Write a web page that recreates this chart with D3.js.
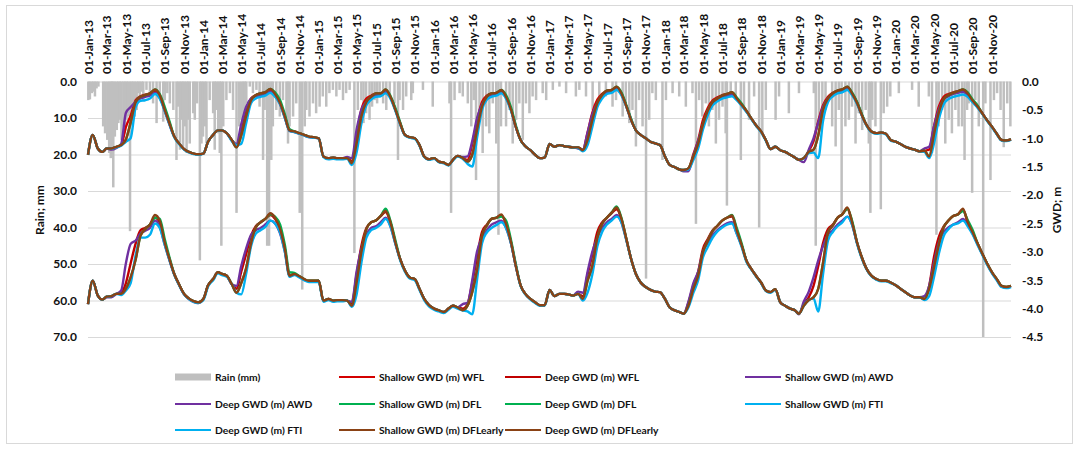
<!DOCTYPE html>
<html>
<head>
<meta charset="utf-8">
<script src="https://cdn.jsdelivr.net/npm/d3@7"></script>
<style>
  body { margin: 0; background: #fff; }
  text { font-family: Lato, "Liberation Sans", sans-serif; font-weight: bold; fill: #111; }
</style>
</head>
<body>
<div id="chart"></div>
<script>
var w = 1079;
var h = 450;

// Rain: day of record (days after 01-Jan-13) and depth in mm
var rainDay = [1,6,12,17,22,27,33,48,54,61,67,72,76,80,85,91,96,101,106,112,117,122,127,133,138,143,148,154,159,164,170,175,185,196,206,217,227,238,243,251,259,270,280,285,291,296,301,306,312,317,322,333,338,345,354,359,364,370,375,385,396,401,406,412,417,422,428,438,449,459,470,478,485,491,496,501,512,522,533,543,554,559,567,573,580,585,596,607,617,628,633,638,649,659,670,678,686,691,701,712,722,733,743,754,764,775,786,796,807,817,828,843,854,865,872,880,891,899,907,915,
  923,934,944,955,970,981,986,997,1007,1023,1028,1060,1091,1144,1149,1160,1176,1186,1202,1213,1221,1228,1239,1249,1260,1270,1281,1292,1299,1307,1323,1334,1344,1355,1365,1376,1386,1397,1407,1418,1439,1450,1471,1492,1513,1544,1555,1576,1597,1618,1639,1660,1671,1692,1702,1713,1723,1734,1744,1755,1766,1776,1786,1797,1818,1829,1850,1871,1892,1913,1924,1934,1944,1955,1965,1976,1987,1997,2008,2018,
  2022,2034,2050,2066,2076,2092,2108,2124,2134,2145,2176,2187,2218,2250,2297,2303,2313,2324,2334,2355,2366,2376,2385,2397,2408,2418,2429,2439,2450,2461,2471,2476,2482,2492,2509,2518,2529,2539,2566,2608,2629,2661,2671,2685,2692,2703,2713,2724,2734,2745,2755,
  2766,2774,2782,2787,2798,2808,2819,2833,2840,2856,2867,2877,2888,2898,2909,2919];
var rainMm = [5.1,4.9,3.2,2.8,4.1,1.9,1.4,12.3,14.2,16.0,19.6,21.0,17.0,29,15.1,13.3,11.4,10.5,16.0,12.3,14.2,10.5,9.6,41,12.3,7.8,9.6,7.8,3.2,4.1,2.8,5.1,2.3,3.2,6.0,11.4,4.1,11.0,5.1,3.2,6.0,7.8,21.5,6.9,18.7,10.5,17.8,12.3,19.6,10.5,17.0,8.7,10.5,6.0,49,17.0,15.1,12.3,17.0,5.1,8.7,18.7,7.8,14.2,19.6,45,12.3,5.1,3.2,7.8,36,12.3,10.5,14.2,7.8,6.0,1.4,3.2,2.3,6.9,21.5,7.8,45,45,21.5,12.3,7.8,9.6,5.1,10.5,17.0,12.3,9.6,6.0,36,57,12.3,7.8,9.6,6.0,8.7,6.9,4.1,6.9,3.2,2.3,4.1,2.3,5.1,3.2,2.3,47,7.8,5.1,11.4,8.7,10.5,6.9,5.1,6.0,
  4.0,6.0,7.8,4.1,6.0,21.5,5.1,7.8,4.1,5.1,3.2,2.3,6.9,6.0,36,5.1,3.2,4.1,6.0,12.3,5.1,27,9.6,19.6,12.3,14.2,6.0,17.0,42,12.3,12.3,7.8,17.0,10.5,6.0,16.0,6.0,8.7,4.1,5.1,3.2,5.1,2.3,1.4,3.2,4.1,2.3,4.1,7.8,6.0,4.1,6.9,5.1,9.6,6.0,11.4,7.8,17.8,5.1,12.3,54,10.5,3.2,5.1,21.5,5.1,3.2,4.1,6.9,3.2,39,5.1,9.6,6.0,12.3,7.8,17.0,10.5,6.9,14.2,
  34,3.2,4.1,21.5,6.9,10.5,4.1,40,14.2,7.8,10.5,4.1,8.7,3.2,3.2,45,12.3,10.5,7.8,12.3,17.8,7.8,36,12.3,10.5,6.9,17.0,8.7,13.3,7.8,17.0,36,10.5,12.3,35,8.7,6.9,4.1,3.2,2.3,6.9,4.1,19.6,42,12.3,7.8,17.0,10.5,14.2,7.8,12.3,
  12.3,21.5,7.8,6.0,30.5,5.1,12.3,70,6.0,27,5.1,3.2,7.8,18,6.0,12.3];

// GWD (m), sampled on the 1st and 16th of each month, 2013 to 2020, plus 31-Dec-20
var shallowWFL = [
  -1.29,-0.94,-1.18,-1.24,-1.18,-1.18,-1.15,-1.12,-0.80,-0.60,-0.33,-0.26,-0.23,-0.21,-0.17,-0.25,-0.50,-0.74,-0.97,-1.09,-1.19,-1.24,-1.27,-1.28,
  -1.27,-1.06,-0.94,-0.86,-0.86,-0.91,-1.03,-1.13,-0.85,-0.52,-0.30,-0.24,-0.21,-0.19,-0.15,-0.23,-0.38,-0.62,-0.86,-0.88,-0.91,-0.94,-0.97,-0.98,
  -1.00,-1.32,-1.35,-1.34,-1.35,-1.35,-1.35,-1.40,-0.95,-0.50,-0.30,-0.25,-0.21,-0.21,-0.16,-0.27,-0.50,-0.74,-0.94,-0.98,-1.00,-1.12,-1.32,-1.37,
  -1.35,-1.41,-1.43,-1.47,-1.38,-1.31,-1.35,-1.38,-1.10,-0.70,-0.36,-0.25,-0.21,-0.20,-0.17,-0.27,-0.50,-0.80,-1.03,-1.14,-1.21,-1.29,-1.35,-1.34,
  -1.10,-1.15,-1.12,-1.14,-1.15,-1.16,-1.16,-1.20,-0.90,-0.55,-0.32,-0.22,-0.16,-0.15,-0.11,-0.21,-0.44,-0.68,-0.86,-0.94,-1.00,-1.06,-1.09,-1.12,
  -1.32,-1.47,-1.51,-1.55,-1.56,-1.53,-1.28,-1.03,-0.68,-0.47,-0.33,-0.28,-0.24,-0.22,-0.20,-0.30,-0.41,-0.52,-0.65,-0.77,-0.88,-1.03,-1.19,-1.15,
  -1.21,-1.24,-1.29,-1.34,-1.38,-1.35,-1.22,-1.05,-0.70,-0.42,-0.27,-0.20,-0.16,-0.14,-0.11,-0.21,-0.38,-0.59,-0.77,-0.88,-0.91,-0.90,-0.92,-1.03,
  -1.06,-1.10,-1.15,-1.18,-1.20,-1.23,-1.22,-1.20,-0.80,-0.45,-0.27,-0.22,-0.19,-0.17,-0.15,-0.21,-0.34,-0.44,-0.56,-0.68,-0.80,-0.92,-1.03,-1.04,
  -1.02];
var deepWFL = [
  -3.92,-3.51,-3.77,-3.84,-3.79,-3.78,-3.74,-3.72,-3.55,-3.20,-2.85,-2.62,-2.58,-2.52,-2.40,-2.48,-2.84,-3.13,-3.39,-3.57,-3.74,-3.82,-3.87,-3.89,
  -3.83,-3.59,-3.48,-3.36,-3.39,-3.42,-3.57,-3.65,-3.35,-3.05,-2.72,-2.55,-2.48,-2.42,-2.35,-2.42,-2.60,-2.95,-3.42,-3.39,-3.43,-3.48,-3.51,-3.51,
  -3.51,-3.86,-3.83,-3.86,-3.85,-3.85,-3.86,-3.90,-3.40,-2.90,-2.58,-2.48,-2.45,-2.37,-2.30,-2.48,-2.84,-3.13,-3.33,-3.45,-3.48,-3.65,-3.83,-3.94,
  -4.00,-4.03,-4.06,-4.00,-3.95,-3.98,-4.00,-3.92,-3.55,-3.10,-2.65,-2.52,-2.42,-2.40,-2.36,-2.51,-2.84,-3.25,-3.59,-3.74,-3.83,-3.89,-3.94,-3.94,
  -3.67,-3.78,-3.74,-3.74,-3.75,-3.77,-3.74,-3.78,-3.40,-3.05,-2.65,-2.48,-2.40,-2.32,-2.25,-2.42,-2.78,-3.13,-3.39,-3.54,-3.62,-3.67,-3.70,-3.71,
  -3.83,-3.98,-4.03,-4.06,-4.09,-3.90,-3.58,-3.35,-2.95,-2.78,-2.62,-2.54,-2.45,-2.40,-2.38,-2.62,-2.89,-3.16,-3.30,-3.42,-3.54,-3.68,-3.71,-3.66,
  -3.89,-3.95,-4.00,-4.03,-4.09,-3.92,-3.80,-3.60,-3.25,-2.85,-2.60,-2.52,-2.40,-2.34,-2.24,-2.48,-2.84,-3.10,-3.30,-3.42,-3.48,-3.51,-3.51,-3.54,
  -3.59,-3.65,-3.71,-3.77,-3.80,-3.80,-3.83,-3.60,-3.10,-2.75,-2.55,-2.45,-2.37,-2.34,-2.26,-2.48,-2.66,-2.85,-3.03,-3.20,-3.36,-3.48,-3.60,-3.62,
  -3.60];
var shallowAWD = [
  -1.29,-0.94,-1.18,-1.24,-1.18,-1.20,-1.17,-1.10,-0.55,-0.45,-0.36,-0.30,-0.27,-0.25,-0.20,-0.28,-0.52,-0.76,-0.97,-1.09,-1.19,-1.24,-1.27,-1.28,
  -1.27,-1.06,-0.94,-0.86,-0.86,-0.91,-1.03,-1.10,-0.75,-0.45,-0.30,-0.26,-0.24,-0.22,-0.18,-0.25,-0.40,-0.64,-0.87,-0.89,-0.92,-0.95,-0.98,-0.99,
  -1.00,-1.32,-1.35,-1.34,-1.35,-1.35,-1.33,-1.35,-0.85,-0.50,-0.36,-0.29,-0.24,-0.23,-0.18,-0.28,-0.50,-0.74,-0.94,-0.98,-1.00,-1.12,-1.32,-1.37,
  -1.35,-1.41,-1.43,-1.47,-1.38,-1.31,-1.33,-1.32,-1.05,-0.65,-0.40,-0.30,-0.25,-0.23,-0.20,-0.29,-0.50,-0.80,-1.03,-1.14,-1.21,-1.29,-1.35,-1.34,
  -1.10,-1.15,-1.12,-1.14,-1.15,-1.16,-1.18,-1.20,-0.90,-0.58,-0.38,-0.27,-0.20,-0.18,-0.13,-0.23,-0.44,-0.68,-0.86,-0.94,-1.00,-1.06,-1.09,-1.12,
  -1.32,-1.47,-1.51,-1.55,-1.58,-1.58,-1.30,-1.05,-0.76,-0.53,-0.38,-0.32,-0.28,-0.25,-0.23,-0.31,-0.42,-0.53,-0.65,-0.77,-0.88,-1.03,-1.19,-1.15,
  -1.21,-1.24,-1.29,-1.34,-1.38,-1.42,-1.20,-1.00,-0.72,-0.45,-0.30,-0.23,-0.19,-0.17,-0.13,-0.22,-0.38,-0.59,-0.77,-0.88,-0.91,-0.90,-0.92,-1.03,
  -1.06,-1.10,-1.15,-1.18,-1.20,-1.23,-1.18,-1.15,-0.80,-0.50,-0.32,-0.26,-0.22,-0.20,-0.18,-0.24,-0.35,-0.45,-0.56,-0.68,-0.80,-0.92,-1.03,-1.04,
  -1.02];
var deepAWD = [
  -3.92,-3.51,-3.77,-3.84,-3.80,-3.80,-3.74,-3.68,-3.20,-2.86,-2.80,-2.68,-2.63,-2.58,-2.45,-2.55,-2.88,-3.15,-3.40,-3.58,-3.75,-3.83,-3.88,-3.90,
  -3.83,-3.59,-3.48,-3.36,-3.39,-3.42,-3.57,-3.60,-3.25,-2.95,-2.70,-2.62,-2.58,-2.52,-2.45,-2.50,-2.68,-3.00,-3.43,-3.40,-3.44,-3.49,-3.52,-3.52,
  -3.51,-3.86,-3.83,-3.86,-3.85,-3.85,-3.86,-3.88,-3.35,-2.95,-2.70,-2.58,-2.55,-2.48,-2.40,-2.55,-2.86,-3.13,-3.33,-3.45,-3.48,-3.65,-3.83,-3.94,
  -4.00,-4.03,-4.06,-4.00,-3.95,-3.98,-3.92,-3.90,-3.50,-3.00,-2.75,-2.62,-2.52,-2.48,-2.45,-2.58,-2.86,-3.25,-3.59,-3.74,-3.83,-3.89,-3.94,-3.94,
  -3.67,-3.78,-3.74,-3.74,-3.75,-3.77,-3.70,-3.72,-3.35,-3.00,-2.75,-2.58,-2.48,-2.42,-2.35,-2.48,-2.80,-3.13,-3.39,-3.54,-3.62,-3.67,-3.70,-3.71,
  -3.83,-3.98,-4.03,-4.06,-4.09,-3.88,-3.55,-3.35,-3.00,-2.85,-2.70,-2.62,-2.55,-2.50,-2.48,-2.68,-2.90,-3.16,-3.30,-3.42,-3.54,-3.68,-3.71,-3.66,
  -3.89,-3.95,-4.00,-4.03,-4.10,-3.88,-3.70,-3.45,-3.15,-2.90,-2.70,-2.62,-2.52,-2.45,-2.38,-2.52,-2.85,-3.10,-3.30,-3.42,-3.48,-3.51,-3.51,-3.54,
  -3.59,-3.65,-3.71,-3.77,-3.80,-3.80,-3.78,-3.60,-3.20,-2.85,-2.65,-2.57,-2.52,-2.48,-2.42,-2.52,-2.68,-2.86,-3.04,-3.21,-3.37,-3.49,-3.61,-3.63,
  -3.61];
var shallowDFL = [
  -1.29,-0.94,-1.18,-1.24,-1.18,-1.18,-1.15,-1.12,-1.02,-0.72,-0.36,-0.27,-0.24,-0.21,-0.14,-0.22,-0.45,-0.70,-0.97,-1.09,-1.19,-1.24,-1.27,-1.28,
  -1.27,-1.06,-0.94,-0.86,-0.86,-0.91,-1.03,-1.16,-0.95,-0.62,-0.33,-0.24,-0.21,-0.19,-0.13,-0.19,-0.33,-0.58,-0.84,-0.88,-0.91,-0.94,-0.97,-0.98,
  -1.00,-1.32,-1.35,-1.34,-1.35,-1.35,-1.35,-1.44,-1.09,-0.62,-0.36,-0.27,-0.21,-0.21,-0.14,-0.25,-0.47,-0.72,-0.94,-0.98,-1.00,-1.12,-1.32,-1.37,
  -1.35,-1.41,-1.43,-1.47,-1.38,-1.31,-1.35,-1.41,-1.29,-0.86,-0.44,-0.27,-0.21,-0.20,-0.15,-0.24,-0.46,-0.77,-1.03,-1.14,-1.21,-1.29,-1.35,-1.34,
  -1.10,-1.15,-1.12,-1.14,-1.15,-1.16,-1.16,-1.21,-1.03,-0.68,-0.38,-0.24,-0.16,-0.15,-0.09,-0.19,-0.42,-0.66,-0.86,-0.94,-1.00,-1.06,-1.09,-1.12,
  -1.32,-1.47,-1.51,-1.55,-1.56,-1.53,-1.32,-1.10,-0.76,-0.52,-0.36,-0.30,-0.25,-0.22,-0.19,-0.28,-0.39,-0.52,-0.65,-0.77,-0.88,-1.03,-1.19,-1.15,
  -1.21,-1.24,-1.29,-1.34,-1.38,-1.35,-1.24,-1.20,-0.95,-0.50,-0.30,-0.21,-0.16,-0.14,-0.09,-0.19,-0.36,-0.57,-0.77,-0.88,-0.91,-0.90,-0.92,-1.03,
  -1.06,-1.10,-1.15,-1.18,-1.20,-1.23,-1.22,-1.32,-0.94,-0.56,-0.31,-0.24,-0.20,-0.17,-0.14,-0.19,-0.32,-0.42,-0.56,-0.68,-0.80,-0.92,-1.03,-1.04,
  -1.02];
var deepDFL = [
  -3.92,-3.51,-3.77,-3.84,-3.79,-3.78,-3.74,-3.74,-3.65,-3.45,-3.13,-2.72,-2.60,-2.52,-2.40,-2.42,-2.78,-3.10,-3.39,-3.57,-3.74,-3.82,-3.87,-3.89,
  -3.83,-3.59,-3.48,-3.36,-3.39,-3.42,-3.57,-3.72,-3.55,-3.30,-2.85,-2.57,-2.48,-2.42,-2.34,-2.38,-2.52,-2.88,-3.36,-3.37,-3.43,-3.48,-3.51,-3.51,
  -3.51,-3.86,-3.83,-3.86,-3.85,-3.85,-3.86,-3.95,-3.54,-3.01,-2.60,-2.48,-2.45,-2.37,-2.24,-2.45,-2.80,-3.13,-3.33,-3.45,-3.48,-3.65,-3.83,-3.94,
  -4.00,-4.03,-4.06,-4.00,-3.95,-3.98,-4.03,-3.95,-3.71,-3.33,-2.72,-2.54,-2.42,-2.40,-2.38,-2.45,-2.80,-3.22,-3.59,-3.74,-3.83,-3.89,-3.94,-3.94,
  -3.67,-3.78,-3.74,-3.74,-3.75,-3.77,-3.74,-3.83,-3.51,-3.25,-2.75,-2.51,-2.40,-2.31,-2.20,-2.40,-2.78,-3.13,-3.39,-3.54,-3.62,-3.67,-3.70,-3.71,
  -3.83,-3.98,-4.03,-4.06,-4.09,-3.95,-3.65,-3.42,-3.01,-2.81,-2.63,-2.54,-2.45,-2.40,-2.35,-2.58,-2.86,-3.16,-3.30,-3.42,-3.54,-3.68,-3.71,-3.66,
  -3.89,-3.95,-4.00,-4.03,-4.09,-3.95,-3.85,-3.80,-3.65,-3.20,-2.66,-2.54,-2.40,-2.34,-2.24,-2.45,-2.84,-3.10,-3.30,-3.42,-3.48,-3.51,-3.51,-3.54,
  -3.59,-3.65,-3.71,-3.77,-3.80,-3.80,-3.83,-3.65,-3.28,-2.89,-2.57,-2.45,-2.37,-2.34,-2.28,-2.44,-2.62,-2.85,-3.03,-3.20,-3.36,-3.48,-3.60,-3.62,
  -3.60];
var shallowFTI = [
  -1.29,-0.94,-1.18,-1.24,-1.18,-1.18,-1.16,-1.13,-1.06,-1.00,-0.45,-0.34,-0.33,-0.30,-0.22,-0.30,-0.52,-0.76,-0.98,-1.10,-1.20,-1.25,-1.28,-1.29,
  -1.27,-1.06,-0.94,-0.86,-0.86,-0.91,-1.05,-1.12,-1.10,-0.75,-0.38,-0.30,-0.27,-0.25,-0.20,-0.27,-0.40,-0.64,-0.87,-0.89,-0.92,-0.95,-0.98,-0.99,
  -1.00,-1.33,-1.37,-1.36,-1.37,-1.37,-1.36,-1.47,-1.25,-0.75,-0.42,-0.32,-0.27,-0.26,-0.21,-0.30,-0.52,-0.76,-0.95,-0.99,-1.01,-1.13,-1.33,-1.38,
  -1.36,-1.42,-1.44,-1.48,-1.39,-1.32,-1.36,-1.45,-1.50,-1.00,-0.50,-0.32,-0.27,-0.25,-0.21,-0.30,-0.52,-0.80,-1.03,-1.14,-1.21,-1.29,-1.35,-1.34,
  -1.10,-1.15,-1.12,-1.14,-1.15,-1.16,-1.17,-1.23,-1.12,-0.80,-0.45,-0.30,-0.22,-0.20,-0.15,-0.24,-0.45,-0.68,-0.86,-0.94,-1.00,-1.06,-1.09,-1.12,
  -1.32,-1.47,-1.51,-1.55,-1.56,-1.55,-1.38,-1.18,-0.85,-0.60,-0.42,-0.35,-0.30,-0.28,-0.26,-0.33,-0.43,-0.54,-0.66,-0.78,-0.89,-1.04,-1.19,-1.15,
  -1.21,-1.24,-1.29,-1.34,-1.38,-1.35,-1.26,-1.25,-1.35,-0.70,-0.36,-0.26,-0.21,-0.19,-0.15,-0.24,-0.40,-0.60,-0.78,-0.89,-0.92,-0.91,-0.93,-1.04,
  -1.06,-1.10,-1.15,-1.18,-1.20,-1.23,-1.24,-1.35,-1.10,-0.68,-0.40,-0.31,-0.27,-0.25,-0.23,-0.27,-0.37,-0.46,-0.57,-0.69,-0.81,-0.93,-1.04,-1.05,
  -1.03];
var deepFTI = [
  -3.92,-3.51,-3.77,-3.84,-3.79,-3.78,-3.74,-3.76,-3.68,-3.55,-3.05,-2.75,-2.75,-2.70,-2.50,-2.58,-2.88,-3.15,-3.40,-3.58,-3.75,-3.83,-3.88,-3.90,
  -3.85,-3.61,-3.50,-3.38,-3.41,-3.44,-3.57,-3.72,-3.75,-3.40,-2.90,-2.68,-2.62,-2.56,-2.45,-2.50,-2.66,-3.00,-3.44,-3.41,-3.45,-3.50,-3.53,-3.53,
  -3.53,-3.88,-3.85,-3.88,-3.87,-3.87,-3.86,-3.97,-3.75,-3.20,-2.75,-2.62,-2.58,-2.52,-2.42,-2.55,-2.86,-3.15,-3.35,-3.47,-3.50,-3.67,-3.85,-3.96,
  -4.02,-4.05,-4.08,-4.02,-3.97,-4.00,-4.03,-4.05,-4.10,-3.50,-2.85,-2.66,-2.58,-2.53,-2.48,-2.58,-2.86,-3.25,-3.60,-3.75,-3.84,-3.90,-3.95,-3.95,
  -3.67,-3.78,-3.74,-3.74,-3.75,-3.77,-3.74,-3.86,-3.72,-3.40,-2.90,-2.65,-2.52,-2.45,-2.38,-2.48,-2.80,-3.13,-3.39,-3.54,-3.62,-3.67,-3.70,-3.71,
  -3.83,-3.98,-4.03,-4.06,-4.09,-3.98,-3.72,-3.50,-3.10,-2.92,-2.75,-2.64,-2.57,-2.52,-2.50,-2.68,-2.92,-3.18,-3.31,-3.43,-3.55,-3.69,-3.72,-3.67,
  -3.89,-3.95,-4.00,-4.03,-4.09,-3.95,-3.85,-3.82,-4.05,-3.40,-2.80,-2.65,-2.55,-2.48,-2.38,-2.52,-2.86,-3.12,-3.31,-3.43,-3.49,-3.52,-3.52,-3.55,
  -3.59,-3.65,-3.71,-3.77,-3.80,-3.80,-3.85,-3.78,-3.45,-3.05,-2.72,-2.60,-2.52,-2.50,-2.45,-2.55,-2.70,-2.88,-3.05,-3.22,-3.38,-3.50,-3.62,-3.64,
  -3.62];
var shallowDFLearly = [
  -1.29,-0.94,-1.18,-1.24,-1.18,-1.18,-1.15,-1.12,-1.02,-0.72,-0.36,-0.27,-0.24,-0.21,-0.14,-0.24,-0.50,-0.74,-0.97,-1.09,-1.19,-1.24,-1.27,-1.28,
  -1.27,-1.06,-0.94,-0.86,-0.86,-0.91,-1.03,-1.16,-0.95,-0.62,-0.33,-0.24,-0.21,-0.19,-0.13,-0.22,-0.38,-0.62,-0.86,-0.88,-0.91,-0.94,-0.97,-0.98,
  -1.00,-1.32,-1.35,-1.34,-1.35,-1.35,-1.35,-1.44,-1.09,-0.62,-0.36,-0.27,-0.21,-0.21,-0.14,-0.27,-0.50,-0.74,-0.94,-0.98,-1.00,-1.12,-1.32,-1.37,
  -1.35,-1.41,-1.43,-1.47,-1.38,-1.31,-1.35,-1.41,-1.29,-0.86,-0.44,-0.27,-0.21,-0.20,-0.15,-0.27,-0.50,-0.80,-1.03,-1.14,-1.21,-1.29,-1.35,-1.34,
  -1.10,-1.15,-1.12,-1.14,-1.15,-1.16,-1.16,-1.21,-1.03,-0.68,-0.38,-0.24,-0.16,-0.15,-0.09,-0.21,-0.44,-0.68,-0.86,-0.94,-1.00,-1.06,-1.09,-1.12,
  -1.32,-1.47,-1.51,-1.55,-1.56,-1.53,-1.32,-1.10,-0.76,-0.52,-0.36,-0.30,-0.25,-0.22,-0.19,-0.30,-0.41,-0.52,-0.65,-0.77,-0.88,-1.03,-1.19,-1.15,
  -1.21,-1.24,-1.29,-1.34,-1.38,-1.35,-1.24,-1.20,-0.95,-0.50,-0.30,-0.21,-0.16,-0.14,-0.09,-0.21,-0.38,-0.59,-0.77,-0.88,-0.91,-0.90,-0.92,-1.03,
  -1.06,-1.10,-1.15,-1.18,-1.20,-1.23,-1.22,-1.32,-0.94,-0.56,-0.31,-0.24,-0.20,-0.17,-0.14,-0.21,-0.34,-0.44,-0.56,-0.68,-0.80,-0.92,-1.03,-1.04,
  -1.02];
var deepDFLearly = [
  -3.92,-3.51,-3.77,-3.84,-3.79,-3.78,-3.74,-3.74,-3.65,-3.45,-3.13,-2.72,-2.60,-2.52,-2.35,-2.45,-2.84,-3.13,-3.39,-3.57,-3.74,-3.82,-3.87,-3.89,
  -3.83,-3.59,-3.48,-3.36,-3.39,-3.42,-3.57,-3.72,-3.55,-3.30,-2.85,-2.57,-2.48,-2.42,-2.32,-2.40,-2.60,-2.95,-3.42,-3.39,-3.43,-3.48,-3.51,-3.51,
  -3.51,-3.86,-3.83,-3.86,-3.85,-3.85,-3.86,-3.95,-3.54,-3.01,-2.60,-2.48,-2.45,-2.37,-2.28,-2.48,-2.84,-3.13,-3.33,-3.45,-3.48,-3.65,-3.83,-3.94,
  -4.00,-4.03,-4.06,-4.00,-3.95,-3.98,-4.03,-3.95,-3.71,-3.33,-2.72,-2.54,-2.42,-2.40,-2.34,-2.51,-2.84,-3.25,-3.59,-3.74,-3.83,-3.89,-3.94,-3.94,
  -3.67,-3.78,-3.74,-3.74,-3.75,-3.77,-3.74,-3.83,-3.51,-3.25,-2.75,-2.51,-2.40,-2.31,-2.22,-2.42,-2.78,-3.13,-3.39,-3.54,-3.62,-3.67,-3.70,-3.71,
  -3.83,-3.98,-4.03,-4.06,-4.09,-3.95,-3.65,-3.42,-3.01,-2.81,-2.63,-2.54,-2.45,-2.40,-2.36,-2.62,-2.89,-3.16,-3.30,-3.42,-3.54,-3.68,-3.71,-3.66,
  -3.89,-3.95,-4.00,-4.03,-4.09,-3.95,-3.85,-3.80,-3.65,-3.20,-2.66,-2.54,-2.40,-2.34,-2.22,-2.48,-2.84,-3.10,-3.30,-3.42,-3.48,-3.51,-3.51,-3.54,
  -3.59,-3.65,-3.71,-3.77,-3.80,-3.80,-3.83,-3.65,-3.28,-2.89,-2.57,-2.45,-2.37,-2.34,-2.24,-2.48,-2.66,-2.85,-3.03,-3.20,-3.36,-3.48,-3.60,-3.62,
  -3.60];

var seriesNames = ["Shallow GWD (m) WFL", "Deep GWD (m) WFL", "Shallow GWD (m) AWD", "Deep GWD (m) AWD",
                   "Shallow GWD (m) DFL", "Deep GWD (m) DFL", "Shallow GWD (m) FTI", "Deep GWD (m) FTI",
                   "Shallow GWD (m) DFLearly", "Deep GWD (m) DFLearly"];
var seriesColors = ["#d40000", "#c00000", "#7030a0", "#7030a0", "#00b050", "#00b050",
                    "#00b0f0", "#00b0f0", "#8a4215", "#8a4215"];
var seriesValues = [shallowWFL, deepWFL, shallowAWD, deepAWD, shallowDFL, deepDFL,
                    shallowFTI, deepFTI, shallowDFLearly, deepDFLearly];

var rainTicks = [0, 10, 20, 30, 40, 50, 60, 70];
var gwdTicks = [0, -0.5, -1, -1.5, -2, -2.5, -3, -3.5, -4, -4.5];

// sampling dates for the GWD series
var startDate = new Date(2013, 0, 1);
var gwdDates = [];
for (var yr = 2013; yr <= 2020; yr++) {
  for (var mo = 0; mo < 12; mo++) {
    gwdDates.push(new Date(yr, mo, 1), new Date(yr, mo, 16));
  }
}
gwdDates.push(new Date(2020, 11, 31));

var plotLeft = 88, plotRight = 1011, plotTop = 81.5, plotBottom = 337;

var xScale = d3.scaleTime()
      .domain([startDate, new Date(2020, 11, 31)])
      .range([plotLeft, plotRight]);
var yRain = d3.scaleLinear().domain([0, 70]).range([plotTop, plotBottom]);
var yGwd = d3.scaleLinear().domain([0, -4.5]).range([plotTop, plotBottom]);

var svg = d3.select("#chart")
      .append("svg")
      .attr("width", w)
      .attr("height", h);

svg.append("rect")
   .attr("x", 6.5).attr("y", 5.5)
   .attr("width", 1066).attr("height", 438)
   .attr("fill", "#fff")
   .attr("stroke", "#d9d9d9");

//Gridlines
var grid = svg.append("g")
      .attr("transform", "translate(" + plotLeft + ",0)")
      .call(d3.axisLeft(yRain).tickValues(rainTicks).tickSize(-(plotRight - plotLeft)).tickFormat(""));
grid.select(".domain").remove();
grid.selectAll("line").attr("stroke", "#d9d9d9");

//Rain bars hanging from the top
var rain = rainDay.map(function(d, i) {
  return { date: d3.timeDay.offset(startDate, d), mm: rainMm[i] };
});
svg.append("g")
   .selectAll("rect")
   .data(rain)
   .enter()
   .append("rect")
   .attr("x", function(d) { return xScale(d.date) - 1.25; })
   .attr("y", yRain(0))
   .attr("width", 2.5)
   .attr("height", function(d) { return yRain(d.mm) - yRain(0); })
   .attr("fill", "#bfbfbf");

//GWD lines
var line = d3.line()
      .x(function(d, i) { return xScale(gwdDates[i]); })
      .y(function(d) { return yGwd(d); })
      .curve(d3.curveMonotoneX);

svg.append("g")
   .selectAll("path")
   .data(seriesValues)
   .enter()
   .append("path")
   .attr("d", line)
   .attr("fill", "none")
   .attr("stroke", function(d, i) { return seriesColors[i]; })
   .attr("stroke-width", 2.4)
   .attr("stroke-linejoin", "round");

//Axes
var fmt = function(d) { return d.toFixed(1); };

var yLeft = svg.append("g")
      .attr("transform", "translate(" + plotLeft + ",0)")
      .call(d3.axisLeft(yRain).tickValues(rainTicks).tickFormat(fmt).tickSize(0).tickPadding(11));
yLeft.select(".domain").remove();

var yRight = svg.append("g")
      .attr("transform", "translate(" + plotRight + ",0)")
      .call(d3.axisRight(yGwd).tickValues(gwdTicks).tickFormat(fmt).tickSize(0).tickPadding(11));
yRight.select(".domain").remove();

var xTicks = d3.timeMonth.every(2).range(startDate, new Date(2021, 0, 1));
var xTop = svg.append("g")
      .attr("transform", "translate(0,74)")
      .call(d3.axisTop(xScale).tickValues(xTicks).tickFormat(d3.timeFormat("%d-%b-%y")).tickSize(0));
xTop.select(".domain").remove();
xTop.selectAll("text")
    .attr("transform", "rotate(-90)")
    .attr("x", 0)
    .attr("y", 0)
    .attr("dy", "0.35em")
    .attr("text-anchor", "start");

svg.selectAll(".tick text")
   .style("font-size", "12px")
   .style("font-family", "Lato, 'Liberation Sans', sans-serif")
   .style("font-weight", "bold")
   .attr("fill", "#111");

//Axis titles
svg.append("text")
   .attr("transform", "translate(44,210) rotate(-90)")
   .attr("text-anchor", "middle")
   .style("font-size", "12px")
   .text("Rain; mm");
svg.append("text")
   .attr("transform", "translate(1061,210) rotate(-90)")
   .attr("text-anchor", "middle")
   .style("font-size", "12px")
   .text("GWD; m");

//Legend
var legendLabels = ["Rain (mm)"].concat(seriesNames);
var legendColors = ["#bfbfbf"].concat(seriesColors);
var colX = [175, 339, 505, 745];
var rowY = [377, 404, 430];

var legend = svg.append("g")
      .selectAll("g")
      .data(legendLabels)
      .enter()
      .append("g")
      .attr("transform", function(d, i) {
        return "translate(" + colX[i % 4] + "," + rowY[Math.floor(i / 4)] + ")";
      });

legend.each(function(d, i) {
  var g = d3.select(this);
  if (i === 0) {
    g.append("rect").attr("x", 0).attr("y", -3.5).attr("width", 36).attr("height", 7)
     .attr("fill", legendColors[i]);
  } else {
    g.append("line").attr("x1", 0).attr("x2", 36).attr("y1", 0).attr("y2", 0)
     .attr("stroke", legendColors[i]).attr("stroke-width", 2.2);
  }
  g.append("text")
   .attr("x", 40)
   .attr("dy", "0.35em")
   .style("font-size", "10.3px")
   .text(d);
});
</script>
</body>
</html>
